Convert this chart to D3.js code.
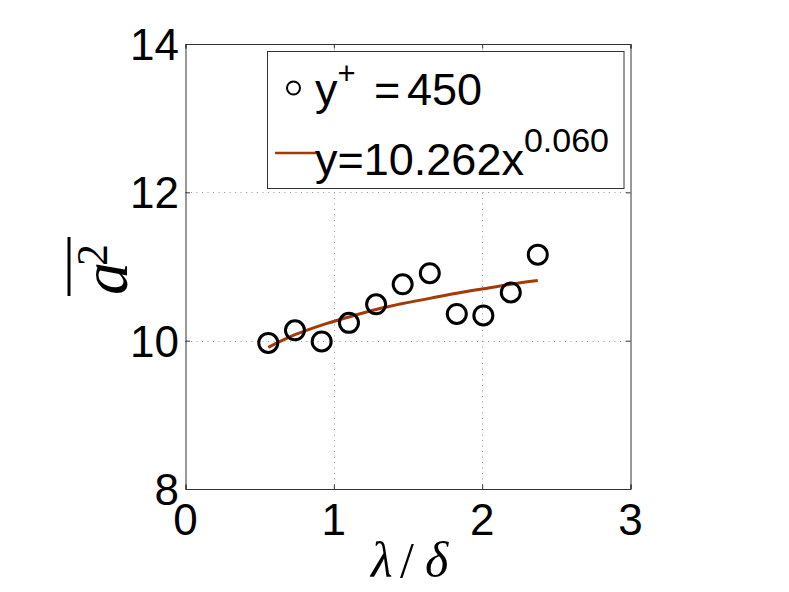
<!DOCTYPE html>
<html>
<head>
<meta charset="utf-8">
<script src="https://cdn.jsdelivr.net/npm/d3@7"></script>
<style>
  html, body { margin: 0; padding: 0; background: #fff; }
  svg { display: block; }
</style>
</head>
<body>
<svg id="chart" width="789" height="592"></svg>
<script>
// ---- data ----
const lambdaOverDelta = [0.558, 0.738, 0.918, 1.102, 1.285, 1.464, 1.647, 1.829, 2.008, 2.193, 2.375];
const a2Values        = [9.97, 10.14, 9.99, 10.24, 10.49, 10.76, 10.91, 10.36, 10.34, 10.65, 11.16];
const fitValues       = [9.91, 10.08, 10.21, 10.32, 10.42, 10.50, 10.57, 10.64, 10.70, 10.76, 10.81];
const xTicks = [0, 1, 2, 3];
const yTicks = [8, 10, 12, 14];
const seriesLabelParts = ["y", "+", "=", "450"];
const fitLabelBase = "y=10.262x";
const fitLabelExp = "0.060";

const svg = d3.select("#chart");
const L = 185.5, R = 630.5, T = 44, B = 489;
const x = d3.scaleLinear().domain([0, 3]).range([L, R]);
const y = d3.scaleLinear().domain([8, 14]).range([B, T]);
const fitColor = "#A33A08";
const axisColor = "#333";
const tickFont = "'Liberation Sans', Arial, Helvetica, sans-serif";
const serif = "'Liberation Serif', 'DejaVu Serif', serif";

// grid (dotted)
const grid = svg.append("g");
grid.selectAll("line.gx").data(xTicks.slice(1, -1)).enter().append("line")
  .attr("x1", d => Math.round(x(d)) + 0.5).attr("x2", d => Math.round(x(d)) + 0.5).attr("y1", T).attr("y2", B)
  .attr("stroke", "#999").attr("stroke-width", 1).attr("stroke-dasharray", "1,4.5");
grid.selectAll("line.gy").data(yTicks.slice(1, -1)).enter().append("line")
  .attr("y1", d => Math.round(y(d)) + 0.5).attr("y2", d => Math.round(y(d)) + 0.5).attr("x1", L).attr("x2", R)
  .attr("stroke", "#999").attr("stroke-width", 1).attr("stroke-dasharray", "1,4.5");

// axes (box with inward ticks on all four sides)
const tk = 4.5;
const bottomAxis = d3.axisBottom(x).tickValues(xTicks).tickSize(-tk).tickFormat("");
const topAxis = d3.axisTop(x).tickValues(xTicks).tickSize(-tk).tickFormat("");
const leftAxis = d3.axisLeft(y).tickValues(yTicks).tickSize(-tk).tickFormat("");
const rightAxis = d3.axisRight(y).tickValues(yTicks).tickSize(-tk).tickFormat("");
[[bottomAxis, `translate(0,${B})`], [topAxis, `translate(0,${T})`],
 [leftAxis, `translate(${L},0)`], [rightAxis, `translate(${R},0)`]].forEach(([ax, tr]) => {
  const g = svg.append("g").attr("transform", tr).call(ax);
  g.selectAll("path, line").attr("stroke", axisColor).attr("stroke-width", 1);
  g.select("path.domain").attr("fill", "none");
});

// tick labels
svg.append("g").selectAll("text").data(xTicks).enter().append("text")
  .attr("x", d => x(d)).attr("y", 535).attr("text-anchor", "middle")
  .attr("font-family", tickFont).attr("font-size", 44).attr("fill", "#000")
  .text(d => d);
svg.append("g").selectAll("text").data(yTicks).enter().append("text")
  .attr("x", 179).attr("y", d => y(d) + 16).attr("text-anchor", "end")
  .attr("font-family", tickFont).attr("font-size", 44).attr("fill", "#000")
  .text(d => d);

// fit curve
const pts = lambdaOverDelta.map((v, i) => [v, fitValues[i]]);
svg.append("path").datum(pts)
  .attr("d", d3.line().x(d => x(d[0])).y(d => y(d[1])).curve(d3.curveMonotoneX))
  .attr("fill", "none").attr("stroke", fitColor).attr("stroke-width", 3);

// markers
svg.append("g").selectAll("circle").data(lambdaOverDelta).enter().append("circle")
  .attr("cx", d => x(d)).attr("cy", (d, i) => y(a2Values[i])).attr("r", 9.5)
  .attr("fill", "none").attr("stroke", "#000").attr("stroke-width", 3);

// legend
const lg = svg.append("g");
lg.append("rect").attr("x", 267.5).attr("y", 51.5).attr("width", 356.5).attr("height", 137)
  .attr("fill", "#fff").attr("stroke", axisColor).attr("stroke-width", 1);
lg.append("circle").attr("cx", 293.5).attr("cy", 88).attr("r", 6.5)
  .attr("fill", "none").attr("stroke", "#000").attr("stroke-width", 2);
const row1 = lg.append("text").attr("x", 315).attr("y", 105)
  .attr("font-family", tickFont).attr("font-size", 45).attr("fill", "#000");
row1.append("tspan").text(seriesLabelParts[0]);
row1.append("tspan").attr("dy", -21).attr("font-size", 31).text(seriesLabelParts[1]);
row1.append("tspan").attr("x", 374).attr("dy", 21).text(seriesLabelParts[2]);
row1.append("tspan").attr("x", 407).text(seriesLabelParts[3]);
lg.append("line").attr("x1", 275).attr("x2", 316).attr("y1", 153).attr("y2", 153)
  .attr("stroke", fitColor).attr("stroke-width", 2.5);
const row2 = lg.append("text").attr("x", 315).attr("y", 175)
  .attr("font-family", tickFont).attr("font-size", 45).attr("fill", "#000");
row2.append("tspan").text(fitLabelBase);
row2.append("tspan").attr("dy", -23).attr("font-size", 34).text(fitLabelExp);

// x-axis label: λ/δ
const xl = svg.append("text").attr("x", 371).attr("y", 577)
  .attr("font-family", serif).attr("font-size", 50).attr("fill", "#000");
xl.append("tspan").attr("font-style", "italic").text("λ");
xl.append("tspan").attr("x", 400).text("/");
xl.append("tspan").attr("x", 425).attr("font-style", "italic").text("δ");

// y-axis label: overline a^2 (rotated)
const yl = svg.append("g").attr("transform", "translate(127,266) rotate(-90)");
const ylt = yl.append("text").attr("x", -29).attr("y", 0)
  .attr("font-family", serif).attr("font-size", 66).attr("fill", "#000");
ylt.append("tspan").attr("font-style", "italic").text("a");
ylt.append("tspan").attr("x", 0).attr("y", -20).attr("font-size", 44).text("2");
yl.append("line").attr("x1", -30).attr("x2", 29).attr("y1", -58).attr("y2", -58)
  .attr("stroke", "#000").attr("stroke-width", 3);
</script>
</body>
</html>
